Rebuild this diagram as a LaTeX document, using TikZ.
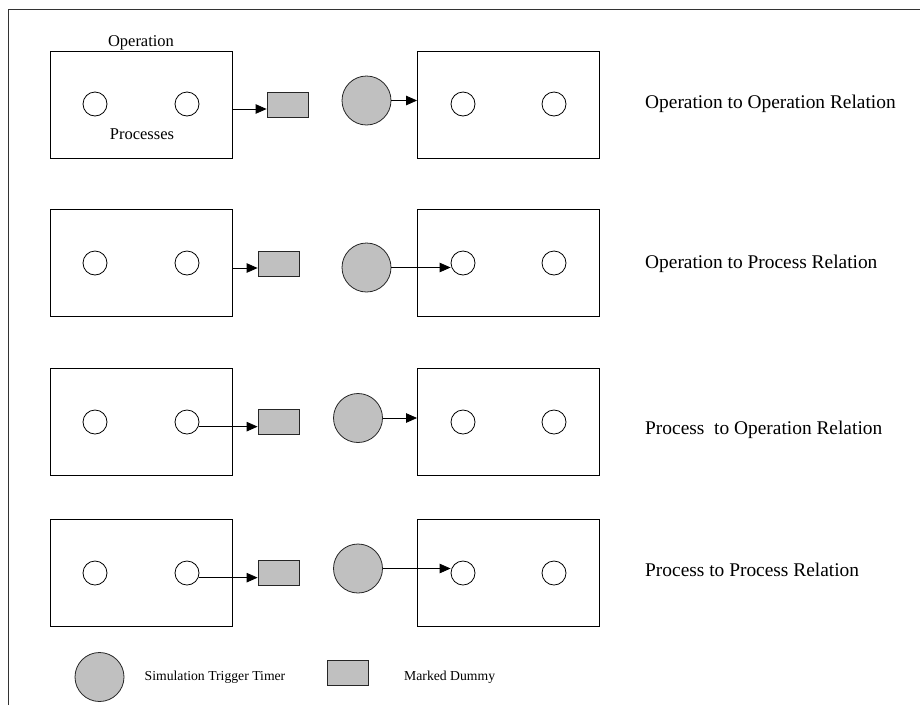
\documentclass[tikz,border=0pt]{standalone}
\usepackage{fontspec}
\setmainfont{Liberation Serif}
\usetikzlibrary{arrows.meta}
\definecolor{tokengray}{HTML}{C0C0C0}
\begin{document}
\begin{tikzpicture}[x=1pt,y=-1pt,
  opbox/.style={draw=black, line width=0.9pt, minimum width=182pt, minimum height=107pt, inner sep=0pt},
  proc/.style={circle, draw=black, line width=0.8pt, fill=white, minimum size=24pt, inner sep=0pt},
  dummy/.style={draw=black!85, line width=0.8pt, fill=tokengray, minimum width=41pt, minimum height=25pt, inner sep=0pt},
  timer/.style={circle, draw=black!85, line width=0.8pt, fill=tokengray, minimum size=49pt, inner sep=0pt},
  arr/.style={line width=0.8pt, -{Triangle[length=11pt,width=9.5pt]}},
  rel/.style={anchor=base west, inner sep=0pt, font=\fontsize{19.4}{23}\selectfont},
  boxlabel/.style={anchor=base, inner sep=0pt, font=\fontsize{16.5}{20}\selectfont},
  legendtext/.style={anchor=base west, inner sep=0pt, font=\fontsize{13.7}{16}\selectfont},
  frameline/.style={draw=black!80, line width=0.9pt}]
\useasboundingbox (0,0) rectangle (920,705);

% outer frame (top and left edges)
\draw[frameline] (8,705) -- (8,9) -- (920,9);

% ---- row 1: operation to operation ----
\node[opbox] (L1) at (141,104.5) {};
\node[proc] (L1a) at (95,104) {};
\node[proc] (L1b) at (187,104) {};
\node[boxlabel] (opname) at (141,46.7) {Operation};
\node[boxlabel] (procname) at (142,139.3) {Processes};
\node[dummy] (D1) at (287.5,104.5) {};
\node[timer] (T1) at (366.5,100.5) {};
\node[opbox] (R1) at (508.5,104.5) {};
\node[proc] (R1a) at (463,104) {};
\node[proc] (R1b) at (554,104) {};
\coordinate (s1) at ([yshift=-4.5pt]L1.east);
\draw[arr] (s1) -- (s1 -| D1.west);
\draw[arr] (T1.east) -- (T1.east -| R1.west);
\node[rel] (lab1) at (645,108.5) {Operation to Operation Relation};

% ---- row 2: operation to process ----
\node[opbox] (L2) at (141,263) {};
\node[proc] (L2a) at (95,263) {};
\node[proc] (L2b) at (187,263) {};
\node[dummy] (D2) at (278.5,263.5) {};
\node[timer] (T2) at (366.5,267.5) {};
\node[opbox] (R2) at (508.5,263) {};
\node[proc] (R2a) at (463,263) {};
\node[proc] (R2b) at (554,263) {};
\coordinate (s2) at ([yshift=-5pt]L2.east);
\draw[arr] (s2) -- (s2 -| D2.west);
\draw[arr] (T2.east) -- (T2.east -| R2a.west);
\node[rel] (lab2) at (645,268.3) {Operation to Process Relation};

% ---- row 3: process to operation ----
\node[opbox] (L3) at (141,422) {};
\node[proc] (L3a) at (95,422) {};
\node[proc] (L3b) at (187,422) {};
\node[dummy] (D3) at (278.5,422) {};
\node[timer] (T3) at (358,418) {};
\node[opbox] (R3) at (508.5,422) {};
\node[proc] (R3a) at (463,422) {};
\node[proc] (R3b) at (554,422) {};
\draw[arr] (L3b.-22) -- (L3b.-22 -| D3.west);
\draw[arr] (T3.east) -- (T3.east -| R3.west);
\node[rel] (lab3) at (645,434) {Process\ \ to Operation Relation};

% ---- row 4: process to process ----
\node[opbox] (L4) at (141,572.5) {};
\node[proc] (L4a) at (95,573) {};
\node[proc] (L4b) at (187,573) {};
\node[dummy] (D4) at (278.5,573) {};
\node[timer] (T4) at (358,568.5) {};
\node[opbox] (R4) at (508.5,572.5) {};
\node[proc] (R4a) at (463,573) {};
\node[proc] (R4b) at (554,573) {};
\draw[arr] (L4b.-22) -- (L4b.-22 -| D4.west);
\draw[arr] (T4.east) -- (T4.east -| R4a.west);
\node[rel] (lab4) at (645,576) {Process to Process Relation};

% ---- legend ----
\node[timer] (LT) at (99.5,677) {};
\node[legendtext] (LTt) at (144.5,680) {Simulation Trigger Timer};
\node[dummy] (LD) at (347.5,673) {};
\node[legendtext] (LDt) at (404,680) {Marked Dummy};
\end{tikzpicture}
\end{document}
